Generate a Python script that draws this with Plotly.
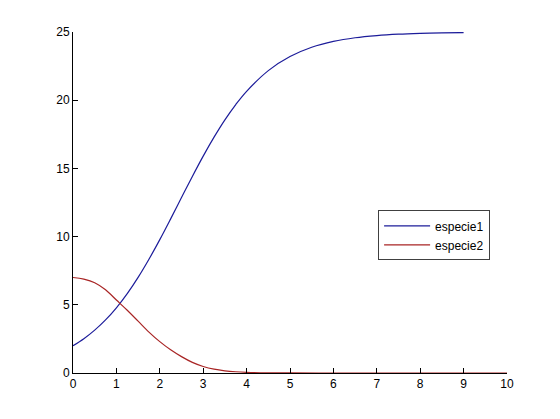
import plotly.graph_objects as go

# especie1
t1 = [0, 0.25, 0.5, 0.75, 1.0, 1.25, 1.5, 1.75, 2.0, 2.25, 2.5, 2.75, 3.0, 3.25, 3.5, 3.75,
      4.0, 4.5, 5.0, 5.5, 6.0, 6.5, 7.0, 7.5, 8.0, 8.5, 9.0]
especie1 = [2.0, 2.51, 3.14, 3.89, 4.78, 5.82, 7.01, 8.34, 9.78, 11.30, 12.86, 14.41, 15.90, 17.29,
            18.56, 19.68, 20.65, 22.17, 23.20, 23.88, 24.31, 24.58, 24.74, 24.84, 24.90, 24.94, 24.96]

# especie2
t2 = [0, 0.25, 0.5, 0.75, 1.0, 1.25, 1.5, 1.75, 2.0, 2.25, 2.5, 2.75, 3.0, 3.25, 3.5, 3.75,
      4.0, 4.5, 5.0, 6.0, 7.0, 8.0, 9.0, 10.0]
especie2 = [7.0, 6.88, 6.62, 6.1, 5.35, 4.6, 3.8, 3.0, 2.3, 1.7, 1.2, 0.78, 0.48, 0.28, 0.16, 0.09,
            0.05, 0.015, 0.005, 0.0, 0.0, 0.0, 0.0, 0.0]

x_ticks = [0, 1, 2, 3, 4, 5, 6, 7, 8, 9, 10]
y_ticks = [0, 5, 10, 15, 20, 25]

fig = go.Figure()
fig.add_trace(go.Scatter(x=t1, y=especie1, mode="lines", name="especie1",
                         line=dict(color="#1c1c9a", width=1.2, shape="spline")))
fig.add_trace(go.Scatter(x=t2, y=especie2, mode="lines", name="especie2",
                         line=dict(color="#a82424", width=1.2, shape="spline")))

axis_common = dict(showgrid=False, zeroline=False, showline=True, linecolor="black", linewidth=1,
                   ticks="inside", ticklen=5, tickcolor="black", mirror=False,
                   tickfont=dict(family="Liberation Sans, Arial, sans-serif", size=12, color="black"))

fig.update_layout(
    width=560, height=419,
    margin=dict(l=65, r=61, t=24, b=54),
    paper_bgcolor="white", plot_bgcolor="white",
    xaxis=dict(range=[0, 10], tickvals=x_ticks, **axis_common),
    yaxis=dict(range=[0, 25], tickvals=y_ticks, **axis_common),
    legend=dict(x=0.703, y=0.477, xanchor="left", yanchor="top",
                bgcolor="white", bordercolor="#404040", borderwidth=1,
                font=dict(family="Liberation Sans, Arial, sans-serif", size=12, color="black"),
                tracegroupgap=0, itemwidth=46),
    showlegend=True,
)

fig.write_html("out.html")
